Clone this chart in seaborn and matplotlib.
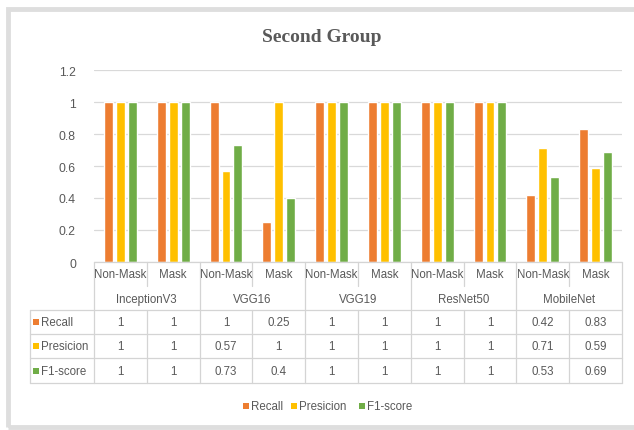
import matplotlib
matplotlib.use("Agg")
import matplotlib.pyplot as plt
from matplotlib.lines import Line2D
from matplotlib.patches import Rectangle
from matplotlib.transforms import blended_transform_factory
import seaborn as sns
import pandas as pd

models = ["InceptionV3", "VGG16", "VGG19", "ResNet50", "MobileNet"]
classes = ["Non-Mask", "Mask"]
metrics = ["Recall", "Presicion", "F1-score"]
recall = [1, 1, 1, 0.25, 1, 1, 1, 1, 0.42, 0.83]
precision = [1, 1, 0.57, 1, 1, 1, 1, 1, 0.71, 0.59]
f1_score = [1, 1, 0.73, 0.4, 1, 1, 1, 1, 0.53, 0.69]
yticks = [0, 0.2, 0.4, 0.6, 0.8, 1, 1.2]

colors = ["#ED7D31", "#FFC000", "#70AD47"]
text_color = "#595959"
line_color = "#D4D4D4"
fs = 8.3

W, H = 634, 431
sns.set_theme(style="white")
plt.rcParams["font.family"] = ["Liberation Sans", "DejaVu Sans"]

keys = [f"{m}|{c}" for m in models for c in classes]
rows = []
for name, vals in zip(metrics, [recall, precision, f1_score]):
    for k, v in zip(keys, vals):
        rows.append({"key": k, "metric": name, "value": v})
df = pd.DataFrame(rows)


def fx(px):
    return px / W


def fy(py):
    return 1 - py / H


fig = plt.figure(figsize=(W / 100, H / 100), dpi=100)
fig.patch.set_facecolor("white")
fig.add_artist(Rectangle((fx(7.5), fy(428)), fx(640) - fx(7.5), fy(10) - fy(428),
                         transform=fig.transFigure, fill=False,
                         edgecolor="#DEDEDE", linewidth=3.5))

ax = fig.add_axes([fx(94), fy(263), fx(622) - fx(94), fy(71) - fy(263)])
sns.barplot(data=df, x="key", y="value", hue="metric", order=keys,
            hue_order=metrics, palette=colors, width=0.68, gap=0.25,
            saturation=1, ax=ax, legend=False)

ax.set_ylim(0, 1.2)
ax.set_xlim(-0.5, len(keys) - 0.5)
ax.set_yticks(yticks)
ax.set_yticklabels([f"{t:g}" for t in yticks], color=text_color, fontsize=fs + 0.5)
ax.tick_params(axis="y", length=0, pad=13)
ax.set_xticks([])
ax.set_xlabel("")
ax.set_ylabel("")
ax.grid(axis="y", color="#D9D9D9", linewidth=0.9)
ax.set_axisbelow(True)
for s in ax.spines.values():
    s.set_visible(False)

fig.text(fx(322), fy(38), "Second Group", ha="center", va="center",
         family="Liberation Serif", fontweight="bold", fontsize=14,
         color=text_color)

# data table below the axis
tr = blended_transform_factory(ax.transData, fig.transFigure)


def hline(y, x0=-0.5, x1=len(keys) - 0.5):
    fig.add_artist(Line2D([x0, x1], [fy(y), fy(y)], transform=tr,
                          color=line_color, linewidth=0.9))


def vline(x, y0, y1):
    fig.add_artist(Line2D([x, x], [fy(y0), fy(y1)], transform=tr,
                          color=line_color, linewidth=0.9))


hline(263)
for i in range(len(keys) + 1):
    b = i - 0.5
    if i % 2 == 0:
        vline(b, 263, 384)
    else:
        vline(b, 263, 287)
        vline(b, 311, 384)

x_left = (fx(30) - fx(94)) / (fx(622) - fx(94)) * len(keys) - 0.5
for y in [311, 335, 359, 384]:
    hline(y, x_left)
vline(x_left, 311, 384)

for i, k in enumerate(keys):
    fig.text(i, fy(275), k.split("|")[1], transform=tr, ha="center",
             va="center", fontsize=fs, color=text_color)
for j, m in enumerate(models):
    fig.text(2 * j + 0.5, fy(300), m, transform=tr, ha="center",
             va="center", fontsize=fs, color=text_color)

row_y = [323, 347, 372]
for name, vals, c, y in zip(metrics, [recall, precision, f1_score], colors, row_y):
    fig.add_artist(Rectangle((fx(33), fy(y + 3)), fx(6), fy(y - 3) - fy(y + 3),
                             transform=fig.transFigure, color=c, lw=0))
    fig.text(fx(41), fy(y), name, ha="left", va="center", fontsize=fs,
             color=text_color)
    for i, v in enumerate(vals):
        fig.text(i, fy(y), f"{v:g}", transform=tr, ha="center", va="center",
                 fontsize=fs, color=text_color)

# legend
leg_x = [243, 291, 359]
for name, c, x in zip(metrics, colors, leg_x):
    fig.add_artist(Rectangle((fx(x), fy(410)), fx(6), fy(404) - fy(410),
                             transform=fig.transFigure, color=c, lw=0))
    fig.text(fx(x + 8), fy(407), name, ha="left", va="center", fontsize=fs,
             color=text_color)

fig.savefig("out.png", dpi=100, facecolor="white")
